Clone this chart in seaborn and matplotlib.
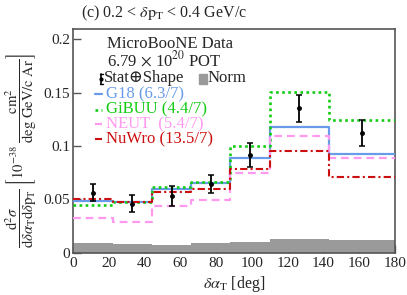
import numpy as np
import pandas as pd
import matplotlib
matplotlib.use("Agg")
import matplotlib.pyplot as plt
import seaborn as sns

# ---- data ----
bin_edges = [0, 22, 44, 66, 88, 110, 143, 180]
data_vals = [0.056, 0.046, 0.053, 0.0643, 0.0915, 0.1354, 0.112]
data_errs = [0.008, 0.008, 0.009, 0.0086, 0.011, 0.0125, 0.012]
norm_vals = [0.0086, 0.0077, 0.0066, 0.0086, 0.0100, 0.0125, 0.0117]
g18_vals = [0.0487, 0.0470, 0.0600, 0.0650, 0.0884, 0.1178, 0.0925]
gibuu_vals = [0.0443, 0.0470, 0.0612, 0.0665, 0.1000, 0.1507, 0.1240]
neut_vals = [0.0321, 0.0289, 0.0440, 0.0490, 0.0744, 0.1094, 0.0884]
nuwro_vals = [0.0502, 0.0472, 0.0568, 0.0593, 0.0780, 0.0953, 0.0712]
model_names = ["G18 (6.3/7)", "GiBUU (4.4/7)", "NEUT  (5.4/7)", "NuWro (13.5/7)"]
x_ticks = [0, 20, 40, 60, 80, 100, 120, 140, 160, 180]
y_ticks = [0, 0.05, 0.1, 0.15, 0.2]
y_tick_labels = ["0", "0.05", "0.1", "0.15", "0.2"]

sns.set_theme(style="white")
plt.rcParams["font.family"] = ["Liberation Serif", "DejaVu Serif"]
plt.rcParams["mathtext.fontset"] = "stix"

fig = plt.figure(figsize=(4.07, 2.95), dpi=100)
ax = fig.add_axes([0.180, 0.144, 0.790, 0.757])

edges = np.array(bin_edges, dtype=float)
centers = 0.5 * (edges[:-1] + edges[1:])

# Norm band
sns.histplot(x=centers, weights=norm_vals, bins=bin_edges, element="step",
             fill=True, color="#9a9a9a", alpha=1.0, linewidth=0, ax=ax, zorder=1)

styles = [
    dict(color="#6a9be8", linestyle="-", linewidth=1.6),
    dict(color="#12cc12", linestyle=(0, (1, 1.3)), linewidth=1.9),
    dict(color="#ff99f0", linestyle=(0, (3.5, 2.2)), linewidth=1.6),
    dict(color="#cc1010", linestyle=(0, (3.5, 1.5, 1, 1.5)), linewidth=1.5),
]
model_vals = [g18_vals, gibuu_vals, neut_vals, nuwro_vals]
for vals, st in zip(model_vals, styles):
    df = pd.DataFrame({"x": edges, "y": list(vals) + [vals[-1]]})
    sns.lineplot(data=df, x="x", y="y", drawstyle="steps-post", estimator=None,
                 errorbar=None, sort=False, ax=ax, zorder=3, **st)

ax.errorbar(centers, data_vals, yerr=data_errs, fmt="o", color="black",
            markersize=2.5, elinewidth=1.3, capsize=2, capthick=1.1, zorder=5)

ax.set_xlim(0, 180)
ax.set_ylim(0, 0.2096)
ax.set_xticks(x_ticks)
ax.set_yticks(y_ticks)
ax.set_yticklabels(y_tick_labels)
ax.tick_params(axis="both", direction="in", length=6, width=1, color="#555555",
               labelsize=11, pad=2, bottom=True, left=True)
ax.tick_params(axis="x", pad=3)
for s in ax.spines.values():
    s.set_color("#555555")
    s.set_linewidth(1.2)
ax.set_ylabel("")
ax.set_xlabel(r"$\delta\alpha_{\mathrm{T}}$ [deg]", fontsize=11.5, labelpad=3)

fig.text(0.2, 0.955, r"(c) 0.2 < $\delta\mathrm{p}_{\mathrm{T}}$ < 0.4 GeV/c",
         fontsize=11.5, ha="left", va="center")

fig.text(0.052, 0.49,
         r"$\dfrac{\mathrm{d}^{2}\sigma}{\mathrm{d}\delta\alpha_{\mathrm{T}}\mathrm{d}\delta\mathrm{p}_{\mathrm{T}}}\ \left[10^{-38}\ \dfrac{\mathrm{cm}^{2}}{\mathrm{deg\ GeV/c\ Ar}}\right]$",
         rotation=90, fontsize=10.5, ha="center", va="center")

# legend (manual)
def fx(px):
    return px / 407.0

def fy(py):
    return 1 - py / 295.0

LFS = 12
fig.text(fx(107), fy(43.5), "MicroBooNE Data", fontsize=LFS, va="center")
fig.text(fx(107), fy(60.5), r"6.79 $\times$ 10$^{20}$ POT", fontsize=LFS, va="center")
fig.text(fx(104), fy(78.5), "Stat\u2295Shape", fontsize=LFS, va="center")
fig.add_artist(plt.Line2D([fx(101), fx(101)], [fy(73.5), fy(83.5)], color="black", lw=1.2))
fig.add_artist(plt.Line2D([fx(99.5), fx(102.5)], [fy(73.5), fy(73.5)], color="black", lw=1))
fig.add_artist(plt.Line2D([fx(99.5), fx(102.5)], [fy(83.5), fy(83.5)], color="black", lw=1))
fig.add_artist(plt.Line2D([fx(101)], [fy(78.5)], marker="o", markersize=2, color="black"))
fig.add_artist(plt.Rectangle((fx(199), fy(83.5)), fx(7.5), 10 / 295.0, color="#9a9a9a"))
fig.text(fx(208), fy(78.5), "Norm", fontsize=LFS, va="center")

leg_y = [94, 109.5, 124, 139]
for name, st, yy in zip(model_names, styles, leg_y):
    fig.add_artist(plt.Line2D([fx(95), fx(101.5)], [fy(yy), fy(yy)], **st))
    fig.text(fx(106), fy(yy), name, fontsize=LFS, va="center", color=st["color"])

fig.savefig("out.png", dpi=100)
